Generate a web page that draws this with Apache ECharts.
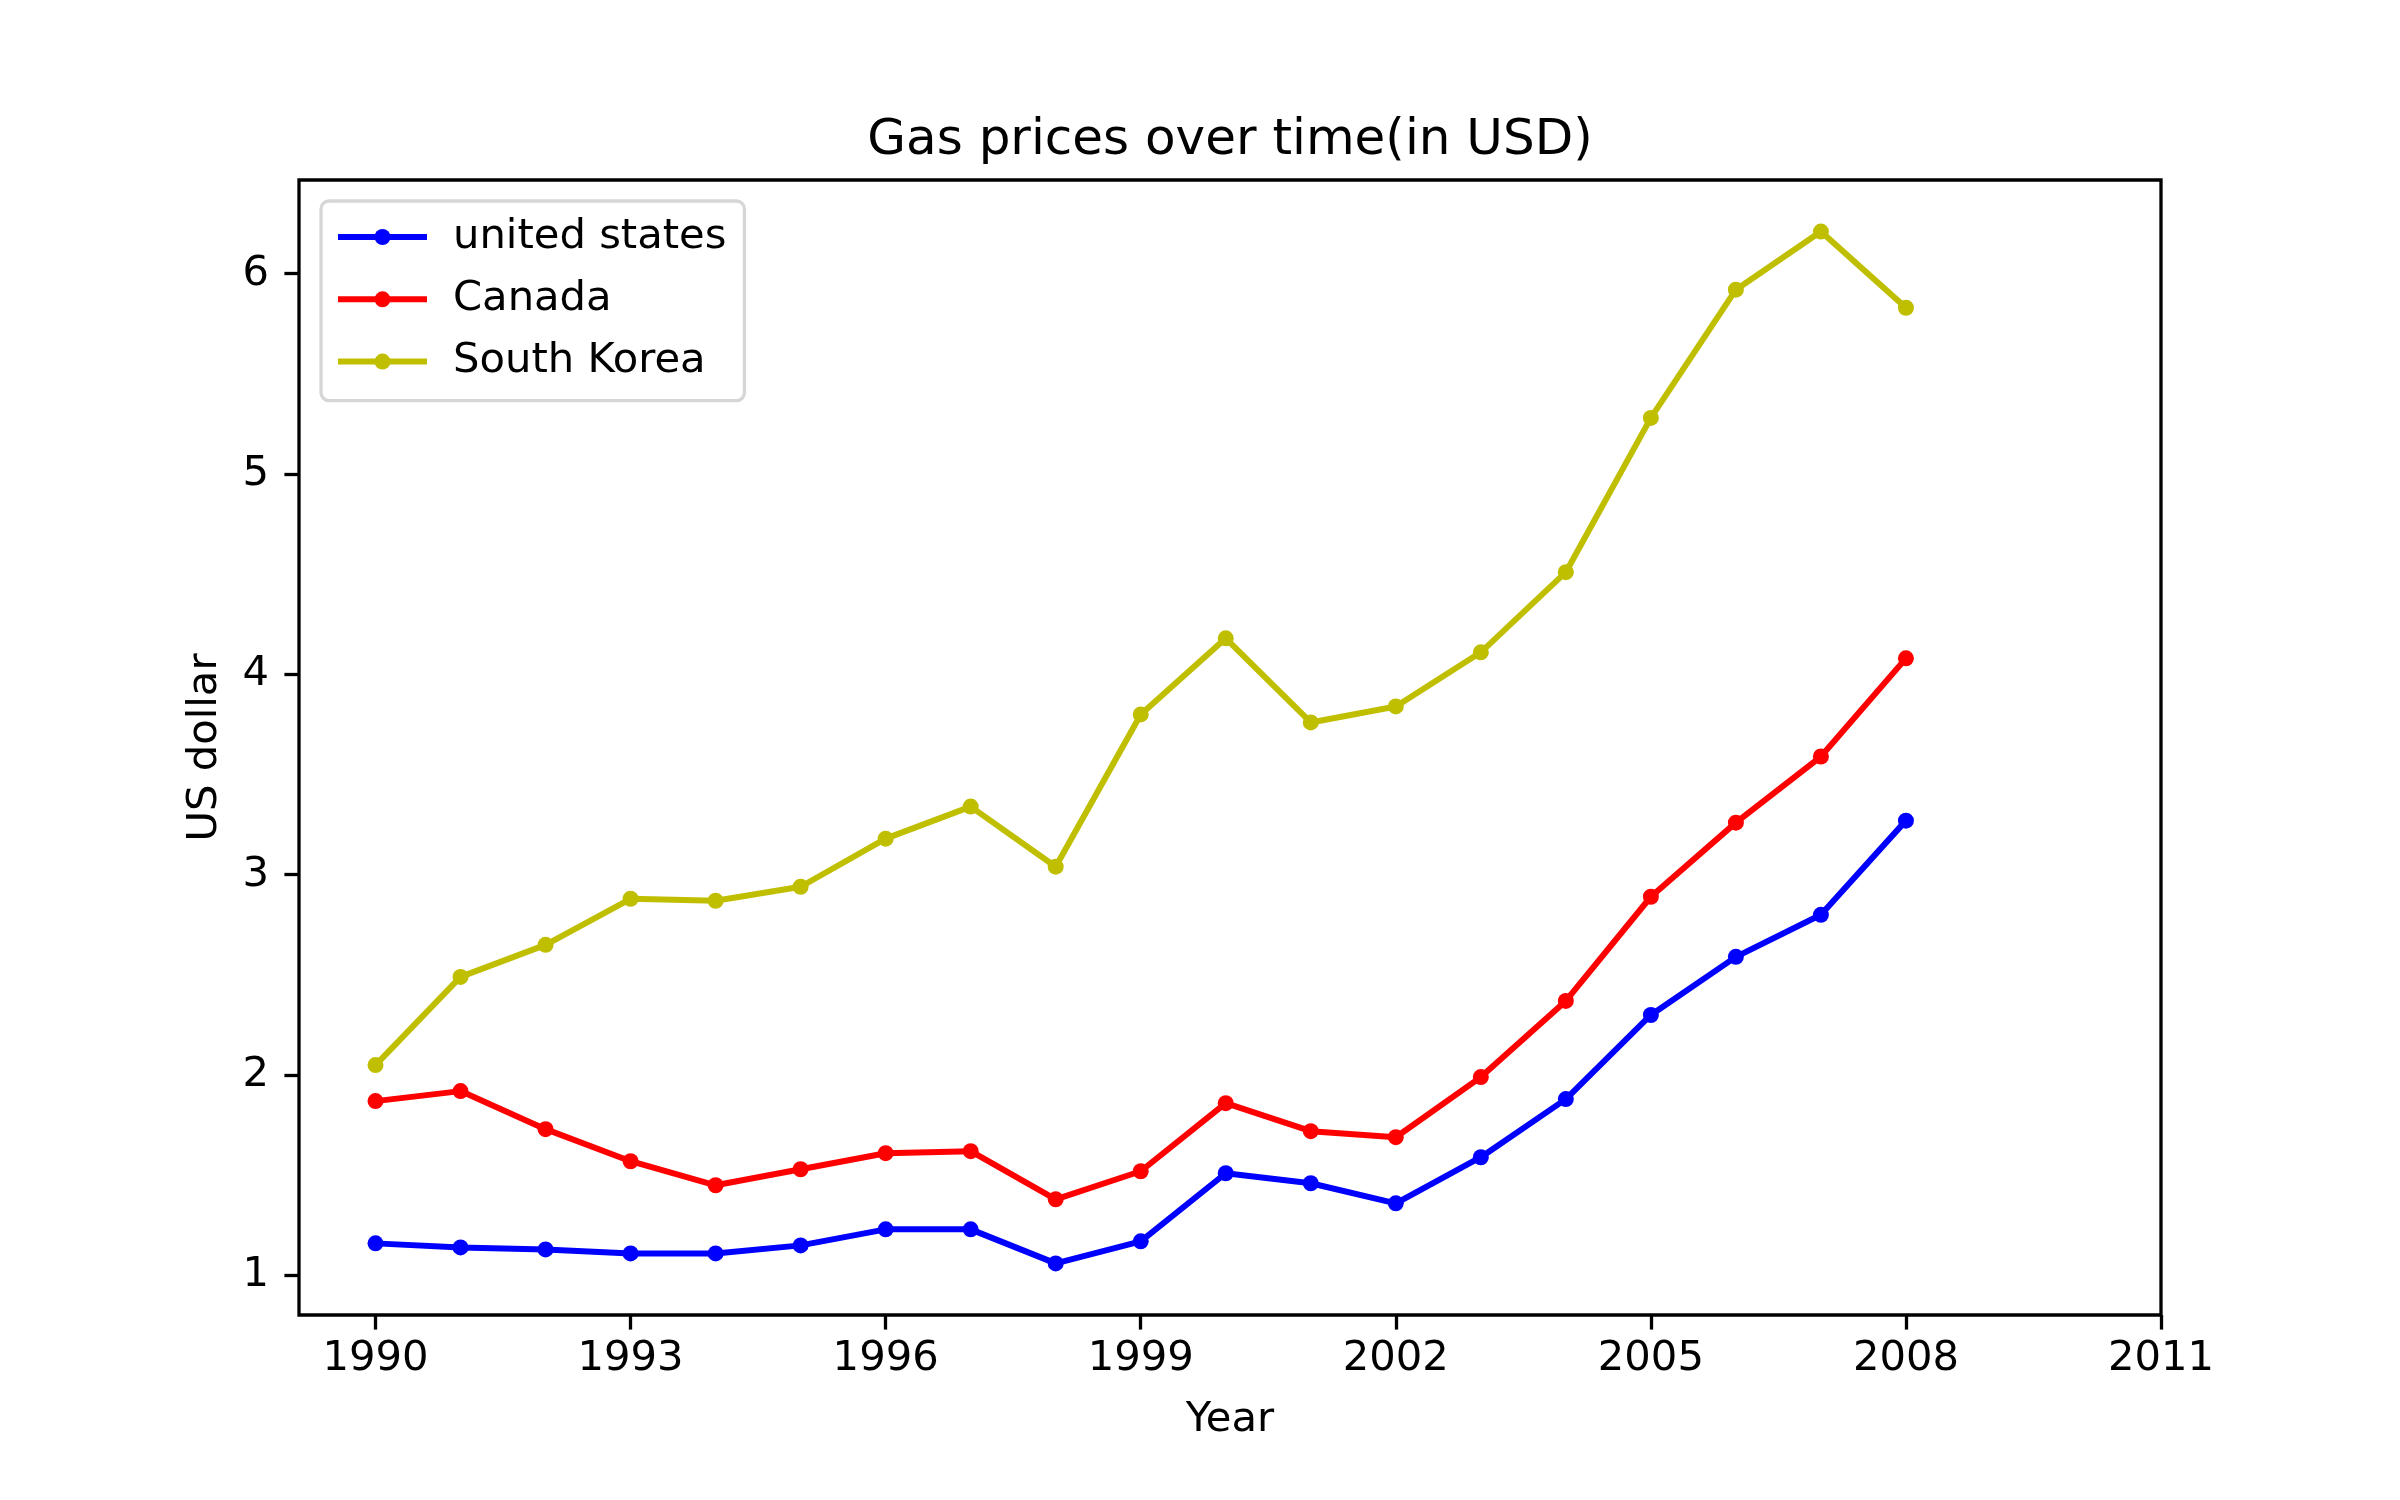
<!DOCTYPE html>
<html lang="en">
<head>
    <meta charset="UTF-8">
    <title>Gas prices over time</title>
    <script src="https://cdn.jsdelivr.net/npm/echarts@6.0.0/dist/echarts.min.js"></script>
    <style>
        html, body { margin: 0; padding: 0; background: #fff; }
        #chart { width: 2400px; height: 1500px; }
    </style>
</head>
<body>
<div id="chart"></div>
<script>
// data
const years = [1990, 1991, 1992, 1993, 1994, 1995, 1996, 1997, 1998, 1999,
               2000, 2001, 2002, 2003, 2004, 2005, 2006, 2007, 2008];
const usa = [1.16, 1.14, 1.13, 1.11, 1.11, 1.15, 1.23, 1.23, 1.06, 1.17,
             1.51, 1.46, 1.36, 1.59, 1.88, 2.30, 2.59, 2.80, 3.27];
const canada = [1.87, 1.92, 1.73, 1.57, 1.45, 1.53, 1.61, 1.62, 1.38, 1.52,
                1.86, 1.72, 1.69, 1.99, 2.37, 2.89, 3.26, 3.59, 4.08];
const southKorea = [2.05, 2.49, 2.65, 2.88, 2.87, 2.94, 3.18, 3.34, 3.04, 3.80,
                    4.18, 3.76, 3.84, 4.11, 4.51, 5.28, 5.92, 6.21, 5.83];
const xTicks = [1990, 1993, 1996, 1999, 2002, 2005, 2008, 2011];
const yTicks = [1, 2, 3, 4, 5, 6];

const font = 'DejaVu Sans';
const fs = 41.7;

function pairs(vals) {
    return years.map((y, i) => [y, vals[i]]);
}

function lineSeries(name, color, vals) {
    return {
        name: name,
        type: 'line',
        data: pairs(vals),
        symbol: 'circle',
        symbolSize: 16,
        showSymbol: true,
        lineStyle: { color: color, width: 6 },
        itemStyle: { color: color },
        emphasis: { disabled: true },
        animation: false
    };
}

const chart = echarts.init(document.getElementById('chart'));

chart.setOption({
    backgroundColor: '#fff',
    animation: false,
    textStyle: { fontFamily: font },
    title: {
        text: 'Gas prices over time(in USD)',
        left: 1230,
        top: 116,
        padding: 0,
        textAlign: 'center',
        textStyle: { fontFamily: font, fontSize: 50, fontWeight: 'normal', color: '#000', lineHeight: 50 }
    },
    legend: {
        orient: 'vertical',
        left: 321,
        top: 201,
        padding: [15, 18, 18, 14],
        itemWidth: 89,
        itemHeight: 20,
        itemGap: 20.3,
        backgroundColor: '#fff',
        borderColor: '#d6d6d6',
        borderWidth: 3.3,
        borderRadius: 8,
        lineStyle: { width: 6 },
        textStyle: { fontFamily: font, fontSize: fs, color: '#000', lineHeight: 41, padding: [0, 0, 0, 21] },
        data: ['united states', 'Canada', 'South Korea']
    },
    grid: {
        left: 299,
        right: 239,
        top: 180,
        bottom: 185,
        show: true,
        borderColor: '#000',
        borderWidth: 3.3,
        backgroundColor: 'transparent',
        containLabel: false
    },
    xAxis: {
        type: 'value',
        min: 1989.1,
        max: 2011,
        name: 'Year',
        nameLocation: 'middle',
        nameGap: 81,
        nameTextStyle: { fontFamily: font, fontSize: fs, color: '#000', lineHeight: 48 },
        axisLine: { show: false },
        splitLine: { show: false },
        axisTick: {
            show: true, inside: false, length: 14.6,
            lineStyle: { color: '#000', width: 3.3 },
            customValues: xTicks
        },
        axisLabel: {
            show: true, margin: 23, color: '#000',
            fontFamily: font, fontSize: fs, lineHeight: 42,
            customValues: xTicks,
            formatter: v => String(v)
        }
    },
    yAxis: {
        type: 'value',
        min: 0.8025,
        max: 6.4675,
        name: 'US dollar',
        nameLocation: 'middle',
        nameRotate: 90,
        nameGap: 70,
        nameTextStyle: { fontFamily: font, fontSize: fs, color: '#000', lineHeight: 48 },
        axisLine: { show: false },
        splitLine: { show: false },
        axisTick: {
            show: true, inside: false, length: 14.6,
            lineStyle: { color: '#000', width: 3.3 },
            customValues: yTicks
        },
        axisLabel: {
            show: true, margin: 30, color: '#000',
            fontFamily: font, fontSize: fs,
            customValues: yTicks,
            formatter: v => String(v)
        }
    },
    series: [
        lineSeries('united states', '#0000ff', usa),
        lineSeries('Canada', '#ff0000', canada),
        lineSeries('South Korea', '#bfbf00', southKorea)
    ]
});
</script>
</body>
</html>
